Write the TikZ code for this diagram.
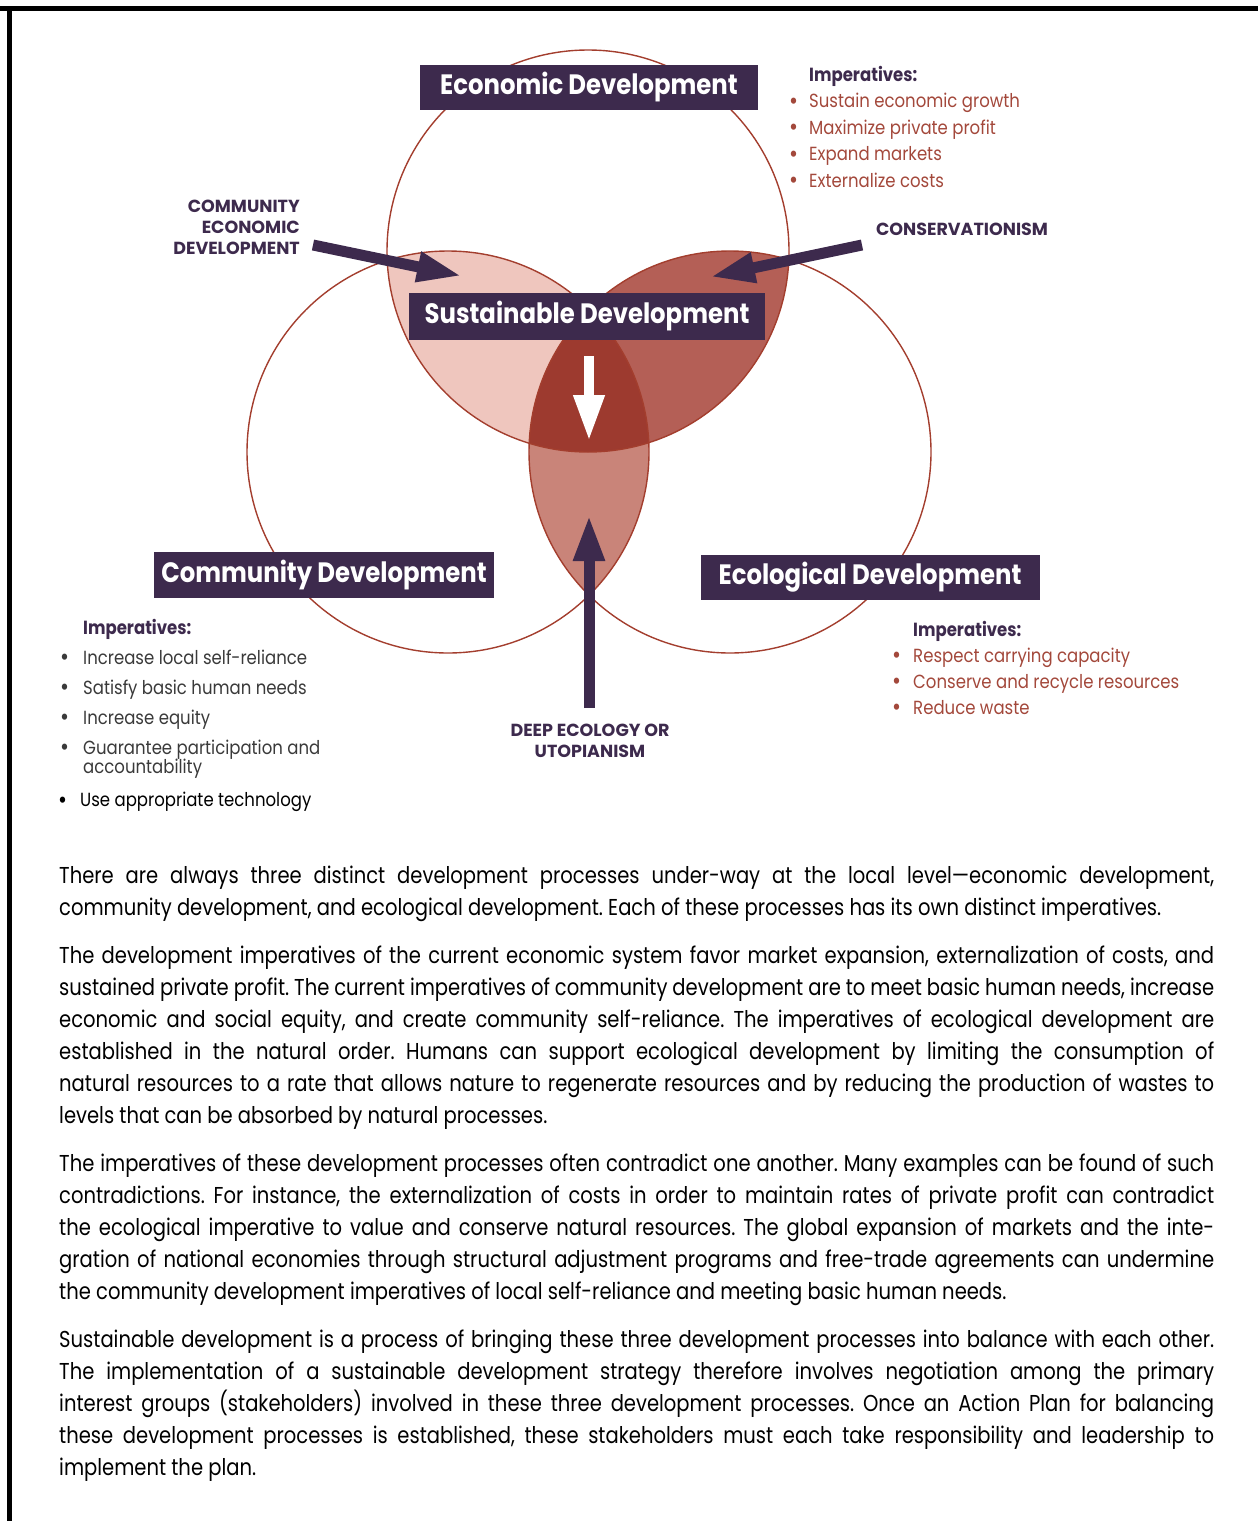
\documentclass[tikz,border=0pt]{standalone}
\usepackage{fontspec}
\setmainfont[FakeStretch=0.87]{Poppins}
\newfontfamily\bodyfont[FakeStretch=0.85]{Poppins}
\newfontfamily\capsfont{Poppins}
\usetikzlibrary{arrows.meta}

\definecolor{deeppurple}{HTML}{3D2A4D}
\definecolor{rust}{HTML}{A3483B}
\definecolor{ringred}{HTML}{A33E2E}
\definecolor{pinklight}{HTML}{EFC6BE}
\definecolor{pinkmid}{HTML}{C98479}
\definecolor{redmid}{HTML}{B45F56}
\definecolor{reddark}{HTML}{9D3A2F}
\definecolor{graytext}{HTML}{3A3A3A}
\newcommand{\bul}[1][18pt]{\makebox[#1][l]{\raisebox{-1.5pt}{\fontsize{25}{25}\selectfont\textbullet}}}

\begin{document}
\begin{tikzpicture}[x=1pt,y=-1pt]
        \tikzstyle{lbl}=[fill=deeppurple, text=white, inner sep=0pt, font=\bfseries\fontsize{28}{30}\selectfont];
        \tikzstyle{capnote}=[text=deeppurple, inner sep=0pt, font=\capsfont\bfseries\fontsize{17.5}{21}\selectfont];
        \tikzstyle{implist}=[anchor=north west, align=left, inner sep=0pt];
        \tikzstyle{fatarrow}=[line width=11pt, deeppurple, -{Triangle[length=46pt,width=29pt]}];
        \tikzstyle{ring}=[draw=ringred, line width=1.4pt];
        \useasboundingbox (0,0) rectangle (1258,1521);

        % frame
        \draw[line width=5pt] (0,8) -- (1258,8);
        \draw[line width=5pt] (9,8) -- (9,1521);

        % the three circles
        \coordinate (econ) at (588,251);
        \coordinate (comm) at (448,452);
        \coordinate (ecol) at (730,452);
        \begin{scope}
            \clip (econ) circle [radius=201pt];
            \fill[pinklight] (comm) circle [radius=201pt];
            \fill[redmid] (ecol) circle [radius=201pt];
        \end{scope}
        \begin{scope}
            \clip (comm) circle [radius=201pt];
            \fill[pinkmid] (ecol) circle [radius=201pt];
        \end{scope}
        \begin{scope}
            \clip (econ) circle [radius=201pt];
            \clip (comm) circle [radius=201pt];
            \fill[reddark] (ecol) circle [radius=201pt];
        \end{scope}
        \draw[ring] (econ) circle [radius=201pt];
        \draw[ring] (comm) circle [radius=201pt];
        \draw[ring] (ecol) circle [radius=201pt];

        \node[lbl, minimum width=338pt, minimum height=45pt] (econlbl) at (589,87) {Economic Development};
        \node[lbl, minimum width=356pt, minimum height=47pt] (sustlbl) at (587,316) {Sustainable Development};
        \node[lbl, minimum width=340pt, minimum height=46pt] (commlbl) at (324,575) {Community Development};
        \node[lbl, minimum width=339pt, minimum height=45pt] (ecollbl) at (870,577) {Ecological Development};

        % arrows
        \node[capnote, anchor=north east, align=right] (cednote) at (300,200) {COMMUNITY\\ECONOMIC\\DEVELOPMENT};
        \coordinate (cedtail) at (313,245);
        \coordinate (cedtip) at (462,276);
        \draw[fatarrow, -{Triangle[length=45pt,width=28pt]}] (cedtail) -- (cedtip);

        \node[capnote] (consnote) at (962,229) {CONSERVATIONISM};
        \coordinate (constail) at (862,245);
        \coordinate (constip) at (710,277);
        \draw[fatarrow, -{Triangle[length=45pt,width=28pt]}] (constail) -- (constip);

        \coordinate (downtail) at (589,356);
        \coordinate (downtip) at (589,441);
        \draw[fatarrow, white, line width=10pt] (downtail) -- (downtip);

        \node[capnote, anchor=north, align=center] (deepnote) at (590,724) {DEEP ECOLOGY OR\\UTOPIANISM};
        \coordinate (uptail) at (589,708);
        \coordinate (uptip) at (589,515);
        \draw[fatarrow] (uptail) -- (uptip);

        % imperatives
        \node[implist, text=rust, font=\fontsize{19}{26.5}\selectfont] (econimp) at (789,66)
            {\hspace*{20pt}{\bfseries\color{deeppurple}Imperatives:}\\
             \bul[20pt]Sustain economic growth\\
             \bul[20pt]Maximize private profit\\
             \bul[20pt]Expand markets\\
             \bul[20pt]Externalize costs};
        \node[implist, text=graytext, font=\fontsize{19}{30}\selectfont] (commimp) at (60,619)
            {\hspace*{23pt}{\bfseries\color{deeppurple}Imperatives:}\\
             \bul[23pt]Increase local self-reliance\\
             \bul[23pt]Satisfy basic human needs\\
             \bul[23pt]Increase equity\\
             \bul[23pt]Guarantee participation and\\[-11pt]
             \hspace*{23pt}accountability};
        \node[anchor=west, inner sep=0pt, font=\fontsize{19}{24}\selectfont] (techitem) at (58,802)
            {\bul[22pt]Use appropriate technology};
        \node[implist, text=rust, font=\fontsize{19}{26}\selectfont] (ecolimp) at (892,621)
            {\hspace*{21pt}{\bfseries\color{deeppurple}Imperatives:}\\
             \bul[21pt]Respect carrying capacity\\
             \bul[21pt]Conserve and recycle resources\\
             \bul[21pt]Reduce waste};

        % body text
        \node[anchor=north west, text width=1155pt, inner sep=0pt, align=justify,
              font=\bodyfont\fontsize{23}{32}\selectfont] (bodytext) at (59,866) {%
            \parskip=16pt \parindent=0pt \hyphenpenalty=10000 \frenchspacing
            \spaceskip=\fontdimen2\font plus 2\fontdimen3\font minus 0.45\fontdimen2\font
            There are always three distinct development processes under-way at the local level—economic development,\linebreak
            community development, and ecological development. Each of these processes has its own distinct imperatives.\par
            The development imperatives of the current economic system favor market expansion, externalization of costs, and\linebreak
            sustained private profit. The current imperatives of community development are to meet basic human needs, increase\linebreak
            economic and social equity, and create community self-reliance. The imperatives of ecological development are\linebreak
            established in the natural order. Humans can support ecological development by limiting the consumption of\linebreak
            natural resources to a rate that allows nature to regenerate resources and by reducing the production of wastes to\linebreak
            levels that can be absorbed by natural processes.\par
            The imperatives of these development processes often contradict one another. Many examples can be found of such\linebreak
            contradictions. For instance, the externalization of costs in order to maintain rates of private profit can contradict\linebreak
            the ecological imperative to value and conserve natural resources. The global expansion of markets and the inte-\linebreak
            gration of national economies through structural adjustment programs and free-trade agreements can undermine\linebreak
            the community development imperatives of local self-reliance and meeting basic human needs.\par
            Sustainable development is a process of bringing these three development processes into balance with each other.\linebreak
            The implementation of a sustainable development strategy therefore involves negotiation among the primary\linebreak
            interest groups (stakeholders) involved in these three development processes. Once an Action Plan for balancing\linebreak
            these development processes is established, these stakeholders must each take responsibility and leadership to\linebreak
            implement the plan.\par};
    \end{tikzpicture}
\end{document}
